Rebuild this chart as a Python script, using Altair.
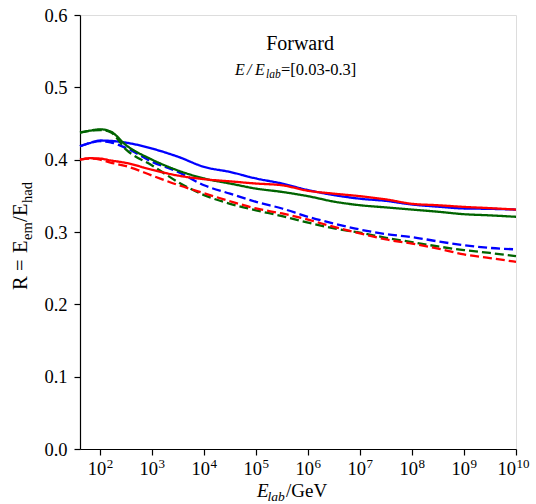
import altair as alt
import pandas as pd

# ---- data ----
energy = [41, 63, 100, 158, 316, 1e3, 3.16e3, 1e4, 3.16e4, 1e5, 3.16e5, 1e6,
          3.16e6, 1e7, 3.16e7, 1e8, 3.16e8, 1e9, 3.16e9, 1e10]
blue_solid = [0.4185, 0.423, 0.4265, 0.426, 0.4235, 0.4153, 0.404, 0.390, 0.383, 0.374,
              0.367, 0.358, 0.351, 0.346, 0.343, 0.338, 0.335, 0.3325, 0.332, 0.331]
blue_dashed = [0.4185, 0.423, 0.4255, 0.424, 0.416, 0.397, 0.383, 0.3646, 0.353, 0.3416,
               0.3325, 0.321, 0.3117, 0.3034, 0.297, 0.293, 0.287, 0.2818, 0.278, 0.276]
green_solid = [0.4375, 0.440, 0.442, 0.439, 0.420, 0.400, 0.385, 0.374, 0.367, 0.360,
               0.3554, 0.3495, 0.342, 0.337, 0.334, 0.331, 0.328, 0.3246, 0.323, 0.321]
green_dashed = [0.4375, 0.440, 0.441, 0.438, 0.414, 0.392, 0.369, 0.351, 0.339, 0.330,
                0.322, 0.313, 0.305, 0.299, 0.292, 0.286, 0.280, 0.275, 0.271, 0.2666]
red_solid = [0.400, 0.402, 0.4015, 0.399, 0.3955, 0.386, 0.378, 0.373, 0.370, 0.367,
             0.3646, 0.357, 0.353, 0.3495, 0.345, 0.339, 0.337, 0.3347, 0.333, 0.331]
red_dashed = [0.400, 0.4015, 0.400, 0.396, 0.391, 0.378, 0.365, 0.3536, 0.3425, 0.3325,
              0.3256, 0.317, 0.307, 0.298, 0.2897, 0.284, 0.277, 0.269, 0.264, 0.2587]

series_names = ["1 blue solid", "2 blue dashed", "3 green solid", "4 green dashed",
                "5 red solid", "6 red dashed"]
series_values = [blue_solid, blue_dashed, green_solid, green_dashed, red_solid, red_dashed]
series_colors = ["#0000ff", "#0000ff", "#006400", "#006400", "#ff0000", "#ff0000"]
series_dash = [[1, 0], [9, 4], [1, 0], [9, 4], [1, 0], [9, 4]]

tick_exponents = [2, 3, 4, 5, 6, 7, 8, 9, 10]
y_ticks = [0.0, 0.1, 0.2, 0.3, 0.4, 0.5, 0.6]

rows = []
for name, vals in zip(series_names, series_values):
    for e, v in zip(energy, vals):
        rows.append({"series": name, "E": e, "R": v})
df = pd.DataFrame(rows)

FONT = "Liberation Serif"
W, H = 436, 434

xscale = alt.Scale(type="log", domain=[41, 1e10], nice=False)
yscale = alt.Scale(domain=[0, 0.6], nice=False)

lines = alt.Chart(df).mark_line(strokeWidth=2.3, interpolate="monotone").encode(
    x=alt.X("E:Q", scale=xscale,
            axis=alt.Axis(values=[10 ** k for k in tick_exponents], labels=False, title=None,
                          tickSize=6, tickWidth=1.2, tickColor="black", domainColor="black",
                          domainWidth=1.2, grid=False)),
    y=alt.Y("R:Q", scale=yscale,
            axis=alt.Axis(values=y_ticks, format=".1f", title=None, labelFont=FONT,
                          labelFontSize=18.5, labelColor="black", labelPadding=7,
                          tickSize=6, tickWidth=1.2, tickColor="black", domainColor="black",
                          domainWidth=1.2, grid=False)),
    color=alt.Color("series:N", scale=alt.Scale(domain=series_names, range=series_colors),
                    legend=None),
    strokeDash=alt.StrokeDash("series:N", scale=alt.Scale(domain=series_names, range=series_dash),
                              legend=None),
    detail="series:N",
)

# x tick labels 10^k
tick_df = pd.DataFrame({"E": [10 ** k for k in tick_exponents],
                        "base": ["10"] * len(tick_exponents),
                        "exp": [str(k) for k in tick_exponents],
                        "k": tick_exponents})

def tick_layer(filter_expr, base_dx):
    base = alt.Chart(tick_df).transform_filter(filter_expr).mark_text(
        font=FONT, fontSize=18.5, align="right", baseline="alphabetic", dx=base_dx, color="black"
    ).encode(x=alt.X("E:Q", scale=xscale), y=alt.value(460), text="base:N")
    sup = alt.Chart(tick_df).transform_filter(filter_expr).mark_text(
        font=FONT, fontSize=13, align="left", baseline="alphabetic", dx=base_dx + 0.5, color="black"
    ).encode(x=alt.X("E:Q", scale=xscale), y=alt.value(453), text="exp:N")
    return [base, sup]

tick_layers = tick_layer("datum.k < 10", 6) + tick_layer("datum.k >= 10", 0)

one = pd.DataFrame({"a": [0]})

def txt(text, x, y, size, style="normal", align="left", angle=0, dx=0, dy=0):
    kw = dict(text=text, font=FONT, fontSize=size, fontStyle=style, align=align,
              baseline="alphabetic", color="black", dx=dx, dy=dy)
    if angle:
        kw["angle"] = angle
    return alt.Chart(one).mark_text(**kw).encode(x=alt.value(x), y=alt.value(y))

# x title: E_lab/GeV
xtitle = [
    txt("E", 177, 482, 19, "italic"),
    txt("lab", 187.5, 486, 13.5, "italic"),
    txt("/GeV", 206, 482, 19),
]
# y title: R = E_em/E_had (rotated)
YX, YY = -53, 275
ytitle = [
    txt("R", YX, YY, 20.5, angle=270, dx=0),
    txt("=", YX, YY, 20.5, angle=270, dx=19),
    txt("E", YX, YY, 20.5, angle=270, dx=37),
    txt("em", YX, YY, 14.5, angle=270, dx=50, dy=4.5),
    txt("/", YX, YY, 20.5, angle=270, dx=68),
    txt("E", YX, YY, 20.5, angle=270, dx=74),
    txt("had", YX, YY, 14.5, angle=270, dx=87, dy=4.5),
]
# annotation
annot = [
    txt("Forward", 220, 35, 20, align="center"),
    txt("E", 155, 60, 16, "italic"),
    txt("/", 167, 60, 16, "italic"),
    txt("E", 175, 60, 16, "italic"),
    txt("lab", 186, 63, 11.5, "italic"),
    txt("=[0.03-0.3]", 201, 60, 16.5),
]

chart = alt.layer(lines, *tick_layers, *xtitle, *ytitle, *annot).properties(
    width=W, height=H,
    padding={"left": 80, "top": 15, "right": 20, "bottom": 55},
    autosize=alt.AutoSizeParams(type="none"),
).configure_view(stroke="black", strokeWidth=1.2).configure(background="white")

chart.save("out.html", embed_options={"renderer": "svg", "actions": False})
